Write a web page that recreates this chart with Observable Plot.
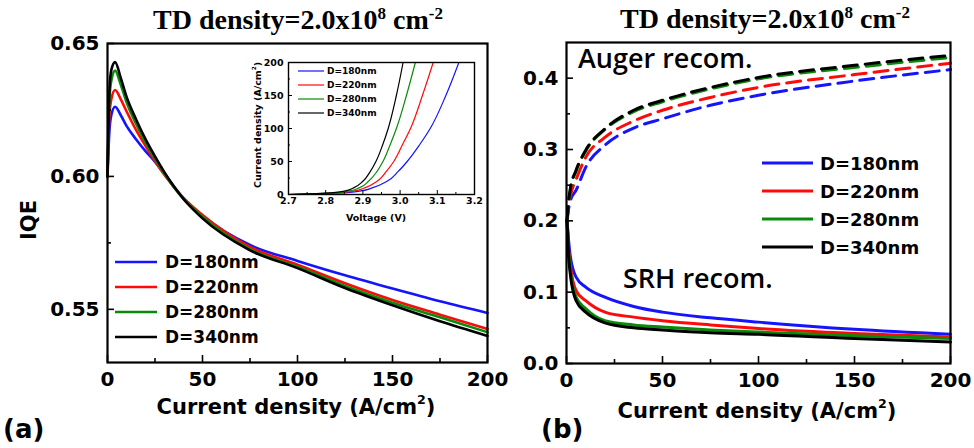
<!DOCTYPE html>
<html><head><meta charset="utf-8">
<script src="https://cdn.jsdelivr.net/npm/d3@7"></script>
<script src="https://cdn.jsdelivr.net/npm/@observablehq/plot@0.6"></script>
<style>
html,body{margin:0;padding:0;background:#fff;}
#chart{position:relative;width:974px;height:448px;overflow:hidden;background:#fff;}
</style></head><body><div id="chart"></div>
<script>
// ---------- data ----------
const seriesNames = ["D=180nm", "D=220nm", "D=280nm", "D=340nm"];
const seriesColors = ["#1414ff", "#ff0a0a", "#0a8a0a", "#000000"];

// (a) IQE vs current density
const iqeCurrent = [0, 1, 2, 4, 7, 10, 15, 20, 25, 30, 40, 50, 75, 100, 125, 150, 175, 200];
const iqe180 = [0.600, 0.617, 0.623, 0.6262, 0.623, 0.619, 0.614, 0.6095, 0.6055, 0.601, 0.5918, 0.5852, 0.5742, 0.5682, 0.5628, 0.5578, 0.553, 0.5486];
const iqe220 = [0.600, 0.623, 0.629, 0.6325, 0.629, 0.6245, 0.6175, 0.6115, 0.6058, 0.6005, 0.5918, 0.5855, 0.5735, 0.5668, 0.5598, 0.5535, 0.548, 0.5426];
const iqe280 = [0.600, 0.629, 0.636, 0.6398, 0.6345, 0.628, 0.6198, 0.6128, 0.6067, 0.601, 0.5915, 0.5848, 0.5726, 0.566, 0.5588, 0.5525, 0.547, 0.5414];
const iqe340 = [0.600, 0.632, 0.640, 0.643, 0.637, 0.630, 0.6215, 0.614, 0.6075, 0.6015, 0.5915, 0.5842, 0.5722, 0.5655, 0.558, 0.5515, 0.5455, 0.540];

// inset: current density vs voltage
const insetCurrent = [0, 2, 5, 10, 20, 35, 50, 75, 100, 150, 200];
const volt180 = [2.70, 2.83, 2.89, 2.925, 2.965, 2.995, 3.019, 3.052, 3.081, 3.123, 3.158];
const volt220 = [2.70, 2.82, 2.875, 2.905, 2.938, 2.963, 2.983, 3.006, 3.028, 3.060, 3.089];
const volt280 = [2.70, 2.81, 2.86, 2.89, 2.915, 2.938, 2.954, 2.973, 2.990, 3.017, 3.041];
const volt340 = [2.70, 2.80, 2.85, 2.875, 2.90, 2.92, 2.935, 2.953, 2.968, 2.990, 3.008];

// (b) recombination fractions vs current density
const recCurrent = [0.3, 1, 2, 5, 10, 20, 35, 50, 75, 100, 150, 200];
const auger180 = [0.200, 0.215, 0.228, 0.243, 0.275, 0.306, 0.330, 0.343, 0.362, 0.376, 0.396, 0.412];
const auger220 = [0.200, 0.220, 0.235, 0.258, 0.289, 0.317, 0.340, 0.355, 0.373, 0.387, 0.405, 0.421];
const auger280 = [0.200, 0.224, 0.244, 0.270, 0.298, 0.328, 0.353, 0.367, 0.385, 0.399, 0.415, 0.429];
const auger340 = [0.200, 0.225, 0.245, 0.271, 0.299, 0.329, 0.355, 0.369, 0.387, 0.401, 0.418, 0.432];
const srh180 = [0.200, 0.175, 0.150, 0.121, 0.107, 0.093, 0.080, 0.072, 0.064, 0.058, 0.048, 0.041];
const srh220 = [0.200, 0.165, 0.138, 0.102, 0.088, 0.072, 0.065, 0.060, 0.054, 0.049, 0.042, 0.037];
const srh280 = [0.200, 0.160, 0.130, 0.093, 0.077, 0.060, 0.054, 0.051, 0.047, 0.044, 0.039, 0.035];
const srh340 = [0.200, 0.155, 0.125, 0.088, 0.072, 0.057, 0.050, 0.047, 0.043, 0.041, 0.035, 0.030];

// ticks
const currentTicks = [0, 50, 100, 150, 200];
const currentMinor = [25, 75, 125, 175];
const iqeTicks = [0.55, 0.60, 0.65];
const iqeMinor = [0.575, 0.625];
const recTicks = [0.0, 0.1, 0.2, 0.3, 0.4];
const recMinor = [0.05, 0.15, 0.25, 0.35];
const voltTicks = [2.7, 2.8, 2.9, 3.0, 3.1, 3.2];
const voltMinor = [2.75, 2.85, 2.95, 3.05, 3.15];
const insetJTicks = [0, 50, 100, 150, 200];
const insetJMinor = [25, 75, 125, 175];

// ---------- tables ----------
function table(xs, ys, names) {
  const out = [];
  ys.forEach((arr, i) => arr.forEach((v, j) => out.push({x: xs[j], y: v, name: names[i]})));
  return out;
}
const iqeData = table(iqeCurrent, [iqe180, iqe220, iqe280, iqe340], seriesNames);
const insetData = table(insetCurrent, [volt180, volt220, volt280, volt340], seriesNames)
  .map(d => ({V: d.y, J: d.x, name: d.name}));
const augerData = table(recCurrent, [auger180, auger220, auger280, auger340], seriesNames);
const srhData = table(recCurrent, [srh180, srh220, srh280, srh340], seriesNames);

const FONT = "'DejaVu Sans', sans-serif";
const chart = document.getElementById("chart");
function place(el, left, top) {
  el.style.position = "absolute";
  el.style.left = left + "px";
  el.style.top = top + "px";
  chart.appendChild(el);
}
function axisMarks(o) {
  return [
    Plot.tickX(o.xTicks, {x: d => d, insetTop: o.innerH - o.major, stroke: "black", strokeWidth: o.tw}),
    Plot.tickX(o.xMinor, {x: d => d, insetTop: o.innerH - o.minor, stroke: "black", strokeWidth: o.tw}),
    Plot.tickY(o.yTicks, {y: d => d, insetRight: o.innerW - o.major, stroke: "black", strokeWidth: o.tw}),
    Plot.tickY(o.yMinor, {y: d => d, insetRight: o.innerW - o.minor, stroke: "black", strokeWidth: o.tw}),
    Plot.axisX({ticks: o.xTicks, tickSize: 0, tickPadding: o.padX, tickFormat: o.xFmt, label: null,
      fontSize: o.fs, fontWeight: "bold", fontFamily: FONT, fill: "black"}),
    Plot.axisY({ticks: o.yTicks, tickSize: 0, tickPadding: o.padY, tickFormat: o.yFmt, label: null,
      fontSize: o.fs, fontWeight: "bold", fontFamily: FONT, fill: "black"}),
    Plot.frame({stroke: "black", strokeWidth: o.fw})
  ];
}
const color = {domain: seriesNames, range: seriesColors};
const baseStyle = {background: "transparent", overflow: "visible", color: "black"};

// ---------- panel (a) ----------
const plotA = Plot.plot({
  width: 500, height: 448, marginLeft: 107, marginRight: 13, marginTop: 43, marginBottom: 86,
  x: {domain: [0, 200], label: null}, y: {domain: [0.53, 0.65], label: null}, color,
  style: baseStyle,
  marks: [
    Plot.line(iqeData, {x: "x", y: "y", z: "name", stroke: "name", strokeWidth: 2.6, curve: "monotone-x"}),
    ...axisMarks({xTicks: currentTicks, xMinor: currentMinor, yTicks: iqeTicks, yMinor: iqeMinor,
      innerW: 380, innerH: 319, major: 7, minor: 4, tw: 1.6, fw: 2.2, fs: 20, padX: 9, padY: 8,
      xFmt: d3.format("d"), yFmt: d3.format(".2f")})
  ]
});
place(plotA, 0, 0);

// ---------- inset ----------
const plotInset = Plot.plot({
  width: 250, height: 180, marginLeft: 48, marginRight: 16, marginTop: 12, marginBottom: 36,
  x: {domain: [2.7, 3.2], label: null}, y: {domain: [0, 200], label: null}, color,
  style: baseStyle,
  marks: [
    Plot.line(insetData, {x: "V", y: "J", z: "name", stroke: "name", strokeWidth: 1.2, curve: "monotone-y"}),
    ...axisMarks({xTicks: voltTicks, xMinor: voltMinor, yTicks: insetJTicks, yMinor: insetJMinor,
      innerW: 186, innerH: 132, major: 4, minor: 2, tw: 1, fw: 1.4, fs: 9.5, padX: 3, padY: 5,
      xFmt: d3.format(".1f"), yFmt: d3.format("d")})
  ]
});
place(plotInset, 240, 50);

// ---------- panel (b) ----------
const plotB = Plot.plot({
  width: 494, height: 448, marginLeft: 86, marginRight: 24, marginTop: 42, marginBottom: 85,
  x: {domain: [0, 200], label: null}, y: {domain: [0, 0.45], label: null}, color,
  style: baseStyle,
  marks: [
    Plot.line(augerData, {x: "x", y: "y", z: "name", stroke: "name", strokeWidth: 3, strokeDasharray: "14,8", curve: "monotone-x"}),
    Plot.line(srhData, {x: "x", y: "y", z: "name", stroke: "name", strokeWidth: 3, curve: "monotone-x"}),
    ...axisMarks({xTicks: currentTicks, xMinor: currentMinor, yTicks: recTicks, yMinor: recMinor,
      innerW: 384, innerH: 321, major: 7, minor: 4, tw: 1.6, fw: 2.2, fs: 20, padX: 9, padY: 8,
      xFmt: d3.format("d"), yFmt: d3.format(".1f")})
  ]
});
place(plotB, 480, 0);

// ---------- overlay texts & legends ----------
const ov = d3.create("svg").attr("width", 974).attr("height", 448)
  .style("position", "absolute").style("left", "0px").style("top", "0px");
chart.appendChild(ov.node());

function title(x, y) {
  const t = ov.append("text").attr("x", x).attr("y", y).attr("text-anchor", "middle")
    .attr("font-family", "'Liberation Serif', serif").attr("font-weight", "bold").attr("font-size", 28).attr("fill", "black");
  t.append("tspan").text("TD density=2.0x10");
  t.append("tspan").attr("dy", -10).attr("font-size", 17).text("8");
  t.append("tspan").attr("dy", 10).text(" cm");
  t.append("tspan").attr("dy", -10).attr("font-size", 17).text("-2");
}
title(298, 29);
title(765, 28);

function currentLabel(x, y, fs, rotate) {
  const t = ov.append("text").attr("text-anchor", "middle")
    .attr("font-family", FONT).attr("font-weight", "bold").attr("font-size", fs).attr("fill", "black");
  if (rotate) t.attr("transform", `translate(${x},${y}) rotate(-90)`);
  else t.attr("x", x).attr("y", y);
  t.append("tspan").text("Current density (A/cm");
  t.append("tspan").attr("dy", -fs * 0.5).attr("font-size", fs * 0.6).text("2");
  t.append("tspan").attr("dy", fs * 0.5).text(")");
}
currentLabel(296, 414, 21, false);
currentLabel(757, 418, 21, false);
currentLabel(261, 125, 9.5, true);

ov.append("text").attr("transform", "translate(36,220) rotate(-90)").attr("text-anchor", "middle")
  .attr("font-family", FONT).attr("font-weight", "bold").attr("font-size", 21).text("IQE");
ov.append("text").attr("x", 376).attr("y", 221).attr("text-anchor", "middle")
  .attr("font-family", FONT).attr("font-weight", "bold").attr("font-size", 9.5).text("Voltage (V)");
ov.append("text").attr("x", 3).attr("y", 438)
  .attr("font-family", FONT).attr("font-weight", "bold").attr("font-size", 26).text("(a)");
ov.append("text").attr("x", 541).attr("y", 438)
  .attr("font-family", FONT).attr("font-weight", "bold").attr("font-size", 26).text("(b)");
ov.append("text").attr("x", 578).attr("y", 68)
  .attr("font-family", "'Open Sans', sans-serif").attr("font-weight", 600).attr("font-size", 27).text("Auger recom.");
ov.append("text").attr("x", 623).attr("y", 288)
  .attr("font-family", "'Open Sans', sans-serif").attr("font-weight", 600).attr("font-size", 27).text("SRH recom.");

function legend(x1, x2, tx, ys, fs, sw) {
  seriesNames.forEach((n, i) => {
    ov.append("line").attr("x1", x1).attr("x2", x2).attr("y1", ys[i]).attr("y2", ys[i])
      .attr("stroke", seriesColors[i]).attr("stroke-width", sw);
    ov.append("text").attr("x", tx).attr("y", ys[i]).attr("dominant-baseline", "central")
      .attr("font-family", FONT).attr("font-weight", "bold").attr("font-size", fs).text(n);
  });
}
legend(115, 157, 165, [262, 287, 312, 337], 17, 2.6);
legend(762, 813, 820, [163, 191, 219, 247], 18, 3);
legend(298, 324, 327, [71, 85, 99, 113], 9, 1.2);
</script></body></html>
